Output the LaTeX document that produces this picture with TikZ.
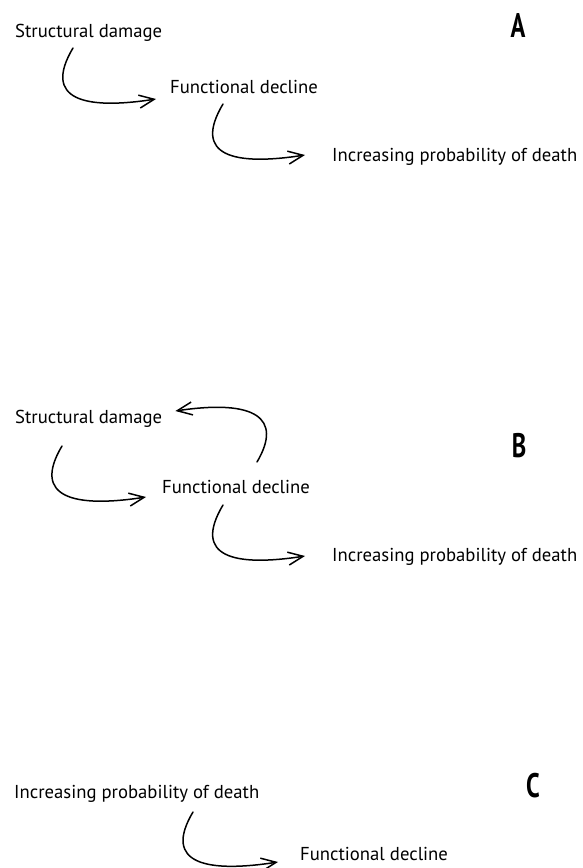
\documentclass[tikz,border=0pt]{standalone}
\usepackage{fontspec}
\setmainfont{PT Sans}
\usetikzlibrary{arrows.meta}

\newcommand{\panelname}[1]{\scalebox{0.72}[1]{#1}}

\begin{document}
\begin{tikzpicture}[
  x=1pt, y=-1pt,
  stage/.style={anchor=base west, inner sep=0pt,
                font=\fontsize{18.7}{22}\selectfont},
  panel/.style={inner sep=0pt, font=\bfseries\fontsize{34}{34}\selectfont},
  swoop/.style={-{Straight Barb[length=15pt,width=13pt]},
                line width=1.5pt, line cap=round}
]
  \useasboundingbox (0,0) rectangle (582,868);

  % A
  \node[stage] (damageA) at (15,37) {Structural damage};
  \node[stage] (declineA) at (170,93) {Functional decline};
  \node[stage] (deathA) at (332,161) {Increasing probability of death};
  \node[panel] (labelA) at (518,26) {\panelname{A}};
  \draw[swoop] ([shift={(58,11)}]damageA.base west)
    .. controls +(-31,52) and +(-71,11) .. ([shift={(-14,6)}]declineA.base west);
  \draw[swoop] ([shift={(53,11)}]declineA.base west)
    .. controls +(-31,52) and +(-71,11) .. ([shift={(-27,-6)}]deathA.base west);

  % B
  \node[stage] (damageB) at (15,423) {Structural damage};
  \node[stage] (declineB) at (162,493) {Functional decline};
  \node[stage] (deathB) at (332,561) {Increasing probability of death};
  \node[panel] (labelB) at (519,446) {\panelname{B}};
  \draw[swoop] ([shift={(47,23)}]damageB.base west)
    .. controls +(-31,52) and +(-71,11) .. ([shift={(-16,4)}]declineB.base west);
  \draw[swoop] ([shift={(95,-31)}]declineB.base west)
    .. controls +(26,-44) and +(80,-12) .. ([shift={(13,-12)}]damageB.base east);
  \draw[swoop] ([shift={(61,12)}]declineB.base west)
    .. controls +(-31,52) and +(-71,11) .. ([shift={(-27,-5)}]deathB.base west);

  % C
  \node[stage] (deathC) at (14,798) {Increasing probability of death};
  \node[stage] (declineC) at (300,860) {Functional decline};
  \node[panel] (labelC) at (533,786) {\panelname{C}};
  \draw[swoop] ([shift={(179,14)}]deathC.base west)
    .. controls +(-31,52) and +(-71,11) .. ([shift={(-22,2)}]declineC.base west);
\end{tikzpicture}
\end{document}
